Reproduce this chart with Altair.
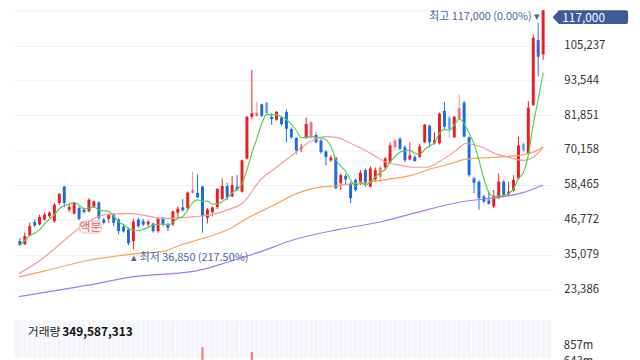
import altair as alt
import pandas as pd

FONT = "Noto Sans CJK KR"

# ---------------- data ----------------
OPEN = [39690, 38600, 41580, 45980, 45220, 46870, 47960, 46310, 52390, 57890,
        50180, 48860, 50740, 50180, 49620, 51270, 52590, 46870, 47100, 48520,
        46870, 44460, 43560, 39590, 46870, 46310, 45220, 45550, 43000, 47530,
        45220, 45220, 49190, 50940, 50740, 55700, 55800, 57890, 47430, 49290,
        51060, 53720, 58120, 54580, 57890, 56230, 67280, 81270, 81600, 85470,
        86000, 81270, 80280, 81040, 82930, 77200, 74230, 70580, 74430, 74430,
        75220, 73330, 69700, 66720, 67610, 59010, 61430, 59010, 60100, 59540,
        63410, 57890, 60330, 61190, 64300, 66160, 71110, 73900, 71110, 66950,
        67810, 67810, 72770, 78300, 72440, 72440, 83260, 81040, 74430, 80510,
        86000, 74430, 60660, 59540, 54580, 53250, 51270, 54050, 59540, 55370,
        56560, 60660, 72230, 68930, 85240, 106980, 102210]
HIGH = [40590, 42570, 45880, 46870, 48520, 49290, 49620, 52390, 55700, 58120,
        52390, 52590, 51270, 50840, 54050, 53250, 52920, 47430, 48860, 49090,
        47430, 45220, 44220, 47200, 47430, 47100, 46540, 45780, 47530, 47630,
        45780, 49850, 51270, 53720, 56230, 62850, 61990, 58120, 50740, 51270,
        57360, 60660, 59210, 61430, 61760, 66950, 81600, 97050, 86330, 85670,
        86330, 82510, 83260, 81600, 83820, 77740, 74430, 72230, 81040, 79950,
        76080, 73900, 70030, 68370, 67810, 62320, 62090, 59540, 60660, 63410,
        63970, 64730, 64300, 65060, 67810, 72770, 73900, 74430, 71690, 72770,
        68370, 72230, 78860, 78630, 76080, 82700, 86330, 81600, 81600, 88780,
        86570, 74660, 61190, 60100, 55150, 56230, 56790, 62320, 60100, 59540,
        61760, 74660, 72770, 86570, 108830, 112800, 117000]
LOW = [37940, 38270, 41250, 44220, 44890, 46540, 47430, 45780, 51830, 51060,
       49290, 48520, 46640, 48860, 49290, 50740, 46640, 45220, 45780, 44650,
       41910, 42470, 38270, 36850, 44120, 44650, 44650, 42470, 42470, 44650,
       43000, 44650, 47430, 49620, 50180, 55700, 54250, 42470, 45550, 47960,
       50410, 53490, 53490, 54380, 56560, 55900, 66950, 80510, 81370, 81270,
       81600, 78630, 79950, 78300, 72770, 73900, 68700, 69460, 73900, 73900,
       72440, 68930, 65060, 66160, 57030, 56790, 58450, 52390, 56230, 58450,
       57890, 57690, 59540, 59540, 63410, 65630, 70030, 70030, 66160, 66720,
       66160, 67610, 72440, 71110, 72010, 72010, 77210, 74230, 74230, 80180,
       74430, 61190, 55700, 50180, 52390, 51830, 50740, 53720, 54580, 54580,
       56230, 60100, 69460, 68700, 84910, 94840, 100360]
CLOSE = [38370, 41350, 44650, 44890, 47760, 48520, 49190, 51830, 55470, 52390,
         51060, 52390, 47100, 49420, 53490, 52920, 47430, 45780, 48520, 45780,
         43000, 42900, 38930, 46210, 44650, 45220, 46210, 43000, 47200, 45220,
         44120, 49620, 50510, 49950, 55900, 56790, 54250, 47960, 50180, 50940,
         57130, 58120, 54250, 58450, 56790, 66720, 81270, 82500, 82700, 81600,
         82510, 80510, 82930, 78860, 77300, 74430, 70030, 71110, 78860, 79390,
         72770, 69460, 67810, 67610, 57360, 61760, 60330, 54050, 56790, 62520,
         59010, 63970, 63410, 64300, 67280, 71690, 73330, 70580, 66720, 68370,
         66490, 71360, 78630, 72770, 73570, 82360, 77970, 77210, 81270, 84150,
         74660, 61760, 59210, 54050, 52920, 52160, 54810, 59540, 55150, 56230,
         60100, 71690, 70030, 84350, 107740, 101450, 117000]
FADED = [35, 48, 50, 59, 73, 76, 87, 89, 102]

MA20_IDX = [-0.2, 4.5, 8.8, 12.2, 14.7, 17.3, 22.0, 25.5, 29.1, 35.5,
            38.9, 42.2, 45.2, 48.7, 52.0, 55.9, 58.5, 61.8, 64.4, 67.1,
            71.1, 74.2, 77.0, 79.5, 82.5, 85.4, 88.4, 90.3, 93.2, 96.2,
            99.1, 102.1, 104.0, 106.0]
MA20_VAL = [28680, 33640, 39590, 44220, 46870, 48520, 48860, 48190, 47200, 47860,
            48520, 50180, 52490, 60100, 64400, 69360, 72670, 74670, 74330, 72340,
            69030, 66060, 65060, 64400, 64400, 66720, 70030, 72340, 71360, 69030,
            67710, 66720, 67710, 71020]
MA60_IDX = [-0.2, 5.1, 9.0, 13.2, 22.8, 29.3, 32.4, 36.5, 42.2, 46.7,
            52.0, 55.9, 59.9, 63.8, 68.3, 73.6, 77.5, 79.5, 83.4, 87.4,
            89.9, 95.8, 101.1, 104.4, 106.0]
MA60_VAL = [27680, 29670, 31320, 32980, 35290, 36280, 38270, 40250, 43560, 47860,
            52160, 55470, 57460, 58120, 59110, 60100, 61090, 61760, 63970, 65630,
            66950, 67710, 68370, 69700, 71360]
MA120_IDX = [-0.2, 13.2, 22.8, 35.7, 42.2, 48.5, 55.8, 64.6, 73.4, 79.5,
             89.5, 97.6, 101.7, 106.0]
MA120_VAL = [21070, 24710, 27680, 29670, 32650, 35950, 40250, 43560, 46210, 48860,
             52820, 54480, 55800, 58450]

Y_TICKS = [23386, 35079, 46772, 58465, 70158, 81851, 93544, 105237, 117000]
VOL_IDX = [37, 47]
VOL_VAL = [840_000_000, 775_000_000]
VOL_TICKS = [643_000_000, 857_000_000]
VOLUME_TOTAL = 349587313
BADGES = [("액분", 14)]

# ---------------- styling ----------------
RED = "#ef1c24"
BLUE = "#1a6ce6"
GREEN = "#56cf4e"
PINK = "#f39a98"
ORANGE = "#f8a25a"
PURPLE = "#a877f2"
ANN = "#4a64a6"
NAVY = "#3e5a99"

N = len(CLOSE)
df = pd.DataFrame({"idx": list(range(N)), "open": OPEN, "high": HIGH,
                   "low": LOW, "close": CLOSE})
df["dir"] = ["up" if c >= o else "down" for o, c in zip(OPEN, CLOSE)]
df["fade"] = ["y" if i in FADED else "n" for i in range(N)]

X_SCALE = alt.Scale(domain=[-0.2, 107.0], nice=False, zero=False)
P_SCALE = alt.Scale(domain=[558, 117000], nice=False, zero=False)
V_SCALE = alt.Scale(domain=[696.5e6, 5404.5e6], nice=False, zero=False)
TOP = max(HIGH)
PRICE_AXIS = alt.Axis(orient="right", values=Y_TICKS, grid=True, gridColor="#edf0f5",
                      gridWidth=1, ticks=False, domain=False, labelPadding=11,
                      labelFontSize=11.5, labelColor="#333333", labelFont=FONT,
                      labelExpr=f"datum.value == {TOP} ? '' : format(datum.value, ',')",
                      title=None)

def X(field="idx"):
    return alt.X(f"{field}:Q", scale=X_SCALE, axis=None)

def PY(field):
    return alt.Y(f"{field}:Q", scale=P_SCALE, axis=PRICE_AXIS)

COLOR = alt.Color("dir:N", scale=alt.Scale(domain=["up", "down"], range=[RED, BLUE]), legend=None)
OPAC = alt.Opacity("fade:N", scale=alt.Scale(domain=["n", "y"], range=[1.0, 0.5]), legend=None)

wicks = alt.Chart(df).mark_rule(strokeWidth=1).encode(
    x=X(), y=PY("low"), y2="high:Q", color=COLOR, opacity=OPAC)
bodies = alt.Chart(df).mark_bar(size=3).encode(
    x=X(), y=PY("open"), y2="close:Q", color=COLOR, opacity=OPAC)

def ma_line(idx, vals, color):
    d = pd.DataFrame({"idx": idx, "ma": vals})
    return alt.Chart(d).mark_line(color=color, strokeWidth=1.2, interpolate="monotone").encode(
        x=X(), y=PY("ma"))

ma120 = ma_line(MA120_IDX, MA120_VAL, PURPLE)
ma60 = ma_line(MA60_IDX, MA60_VAL, ORANGE)
ma20 = ma_line(MA20_IDX, MA20_VAL, PINK)
ma5 = alt.Chart(df).transform_window(
    ma5="mean(close)", frame=[-4, 0], sort=[alt.SortField("idx")]
).mark_line(color=GREEN, strokeWidth=1.2, interpolate="monotone").encode(x=X(), y=PY("ma5"))

low_i = LOW.index(min(LOW))
hi_i = HIGH.index(max(HIGH))
last = CLOSE[-1]
low_df = pd.DataFrame({"idx": [low_i], "p": [LOW[low_i]],
                       "t": [f"▴ 최저 {LOW[low_i]:,} ({(last / LOW[low_i] - 1) * 100:.2f}%)"]})
hi_df = pd.DataFrame({"idx": [hi_i], "p": [HIGH[hi_i]],
                      "t": [f"최고 {HIGH[hi_i]:,} ({(last / HIGH[hi_i] - 1) * 100:.2f}%) ▾"]})
low_text = alt.Chart(low_df).mark_text(align="left", baseline="middle", dx=-2, dy=9,
                                       fontSize=11, font=FONT, color=ANN).encode(
    x=X(), y=PY("p"), text="t:N")
hi_text = alt.Chart(hi_df).mark_text(align="right", baseline="middle", dx=-3, dy=6.5,
                                     fontSize=11, font=FONT, color=ANN).encode(
    x=X(), y=PY("p"), text="t:N")

bd = pd.DataFrame({"idx": [b[1] for b in BADGES], "t": [b[0] for b in BADGES]})
bd["p"] = [LOW[b[1]] for b in BADGES]
badge_rect = alt.Chart(bd).mark_rect(fill="#fff4f1", stroke="#f3bcb5", strokeWidth=1,
                                     cornerRadius=4, xOffset=-9.5, x2Offset=12.5,
                                     yOffset=9, y2Offset=21).encode(
    x=X(), x2="idx:Q", y=PY("p"), y2="p:Q")
badge_text = alt.Chart(bd).mark_text(align="center", baseline="middle", dx=1.5, dy=15,
                                     fontSize=12, font=FONT, color="#e0655e").encode(
    x=X(), y=PY("p"), text="t:N")

one = pd.DataFrame({"t": [f"{last:,}"]})
flag_rect = alt.Chart(one).mark_rect(color=NAVY, cornerRadius=2).encode(
    x=alt.value(551), x2=alt.value(622), y=alt.value(0), y2=alt.value(14))
flag_tri = alt.Chart(one).mark_point(shape="M 1.15 -1 L 0.23 0 L 1.15 1 Z", filled=True,
                                     opacity=1, size=196, color=NAVY).encode(
    x=alt.value(544), y=alt.value(7))
flag_text = alt.Chart(one).mark_text(align="center", baseline="middle", fontSize=12,
                                     font=FONT, color="white").encode(
    x=alt.value(577), y=alt.value(7.5), text="t:N")

price = alt.layer(wicks, bodies, ma120, ma60, ma20, ma5, badge_rect, badge_text,
                  low_text, hi_text, flag_rect, flag_tri, flag_text)

# ---------------- volume panel ----------------
vol_bg = alt.Chart(pd.DataFrame({"a": [0]})).mark_rect(color="#f3f5fa").encode(
    x=alt.value(0), x2=alt.value(544), y=alt.value(314), y2=alt.value(352))
vol_stripes = alt.Chart(df).transform_calculate(pos="datum.idx + 0.5").mark_rule(
    color="white", strokeWidth=1).encode(x=X("pos"), y=alt.value(314), y2=alt.value(352))
vdf = pd.DataFrame({"idx": VOL_IDX, "vol": VOL_VAL})
vol_bars = alt.Chart(vdf).mark_bar(size=2.2, color="#f27e7e").encode(
    x=X(), y=alt.Y("vol:Q", scale=V_SCALE, axis=None), y2=alt.value(352))
vt = pd.DataFrame({"v": VOL_TICKS, "t": [f"{v / 1e6:.0f}m" for v in VOL_TICKS]})
vol_labels = alt.Chart(vt).mark_text(align="left", baseline="middle", fontSize=11.5,
                                     font=FONT, color="#333333").encode(
    x=alt.value(557), y=alt.Y("v:Q", scale=V_SCALE, axis=None), text="t:N")
vol_title1 = alt.Chart(pd.DataFrame({"t": ["거래량"]})).mark_text(
    align="left", baseline="middle", fontSize=12, font=FONT, color="#222222").encode(
    x=alt.value(14), y=alt.value(326), text="t:N")
vol_title2 = alt.Chart(pd.DataFrame({"t": [f"{VOLUME_TOTAL:,}"]})).mark_text(
    align="left", baseline="middle", fontSize=12, font=FONT, fontWeight="bold",
    color="#111111").encode(x=alt.value(49), y=alt.value(326), text="t:N")

vol = alt.layer(vol_bg, vol_stripes, vol_bars, vol_labels, vol_title1, vol_title2)

chart = alt.layer(vol, price).resolve_scale(y="independent").properties(
    width=546, height=352,
    autosize=alt.AutoSizeParams(type="none"),
    padding={"left": 6, "top": 0, "right": 80, "bottom": 0},
    background="white",
).configure_view(stroke=None)

chart.save("out.html", embed_options={"renderer": "svg", "actions": False})
